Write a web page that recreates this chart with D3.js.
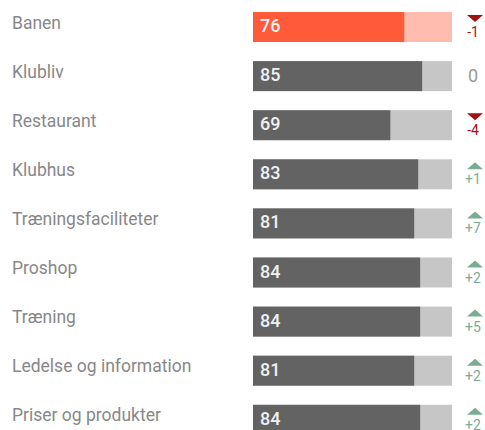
<!DOCTYPE html>
<html>
<head>
<meta charset="utf-8">
<script src="https://cdn.jsdelivr.net/npm/d3@7"></script>
<style>
  body { margin: 0; background: #fff; overflow: hidden; }
  text { font-family: Roboto, "Noto Sans", sans-serif; }
</style>
</head>
<body>
<div id="chart-area"></div>
<script>

// data
let categories = ["Banen", "Klubliv", "Restaurant", "Klubhus", "Træningsfaciliteter",
	"Proshop", "Træning", "Ledelse og information", "Priser og produkter"];
let scores = [76, 85, 69, 83, 81, 84, 84, 81, 84];
let changes = [-1, 0, -4, 1, 7, 2, 5, 2, 2];
let highlight = ["Banen"];

let width = 485, height = 430;

let svg = d3.select("#chart-area").append("svg")
	.attr("width", width)
	.attr("height", height)
	.style("display", "block");

// scales
let x = d3.scaleLinear()
	.domain([0, 100])
	.range([253, 452]);

// one band per row, bar sits at the top of each band
let step = 49.1;
let y = d3.scaleBand()
	.domain(categories)
	.range([12, 12 + step * categories.length]);

let rows = svg.selectAll(".row")
	.data(categories.map((c, i) => ({name: c, value: scores[i], change: changes[i]})))
	.enter()
	.append("g")
	.attr("class", "row")
	.attr("transform", d => "translate(0," + y(d.name) + ")");

let bh = 30;

// category labels
rows.append("text")
	.attr("x", 12)
	.attr("y", 16.5)
	.attr("font-size", 17.5)
	.attr("fill", "#888")
	.text(d => d.name);

// background bar (full scale)
rows.append("rect")
	.attr("x", x(0))
	.attr("y", 0)
	.attr("width", x(100) - x(0))
	.attr("height", bh)
	.attr("fill", d => highlight.includes(d.name) ? "#ffbcaf" : "#c6c6c6");

// value bar
rows.append("rect")
	.attr("x", x(0))
	.attr("y", 0)
	.attr("width", d => x(d.value) - x(0))
	.attr("height", bh)
	.attr("fill", d => highlight.includes(d.name) ? "#ff5b3b" : "#636363");

// value labels
rows.append("text")
	.attr("x", x(0) + 7)
	.attr("y", 20)
	.attr("font-size", 18)
	.attr("font-weight", 500)
	.attr("fill", "#f0f0f0")
	.text(d => d.value);

// change indicators
let cx = 475;
rows.filter(d => d.change !== 0)
	.append("path")
	.attr("d", d => d.change < 0
		? "M" + (cx - 8) + ",3 L" + (cx + 8) + ",3 L" + cx + ",10 Z"
		: "M" + (cx - 8) + ",10 L" + (cx + 8) + ",10 L" + cx + ",3 Z")
	.attr("fill", d => d.change < 0 ? "#a50f0f" : "#7cab95");

rows.append("text")
	.attr("x", 473)
	.attr("y", d => d.change === 0 ? 21 : 25)
	.attr("text-anchor", "middle")
	.attr("font-size", d => d.change === 0 ? 18 : 14)
	.attr("fill", d => d.change < 0 ? "#a50f0f" : d.change > 0 ? "#7cab95" : "#9a9a9a")
	.text(d => d.change > 0 ? "+" + d.change : d.change);

</script>
</body>
</html>
